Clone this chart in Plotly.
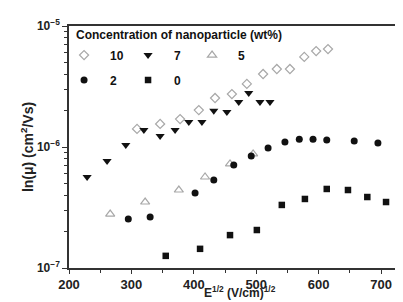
import plotly.graph_objects as go

# ---- data ----
x_10 = [309, 346, 378, 408, 434, 461, 485, 511, 533, 554, 577, 596, 615]
y_10 = [1.41e-6, 1.55e-6, 1.70e-6, 2.02e-6, 2.54e-6, 2.74e-6, 3.32e-6, 4.01e-6,
        4.41e-6, 4.41e-6, 5.55e-6, 6.21e-6, 6.45e-6]

x_7 = [229, 261, 291, 320, 346, 370, 392, 413, 432, 453, 472, 488, 506, 522]
y_7 = [5.65e-7, 7.66e-7, 1.04e-6, 1.38e-6, 1.23e-6, 1.38e-6, 1.61e-6, 1.61e-6,
       1.99e-6, 1.95e-6, 2.35e-6, 2.79e-6, 2.35e-6, 2.35e-6]

x_5 = [266, 322, 376, 418, 458, 495]
y_5 = [2.79e-7, 3.51e-7, 4.41e-7, 5.65e-7, 7.24e-7, 8.76e-7]

x_2 = [295, 330, 402, 432, 464, 492, 519, 546, 569, 591, 613, 657, 695]
y_2 = [2.54e-7, 2.64e-7, 4.17e-7, 5.33e-7, 7.10e-7, 8.43e-7, 9.82e-7, 1.10e-6,
       1.16e-6, 1.16e-6, 1.14e-6, 1.12e-6, 1.08e-6]

x_0 = [355, 410, 458, 501, 541, 578, 613, 647, 678, 708]
y_0 = [1.26e-7, 1.44e-7, 1.87e-7, 2.06e-7, 3.32e-7, 3.72e-7, 4.50e-7, 4.41e-7,
       3.86e-7, 3.51e-7]

x_ticks = [200, 300, 400, 500, 600, 700]
x_minor_ticks = [250, 350, 450, 550, 650, 750]
y_ticks = [1e-7, 1e-6, 1e-5]
y_tick_labels = ["10<sup>\u22127</sup>", "10<sup>\u22126</sup>", "10<sup>\u22125</sup>"]
y_minor_ticks = [m * 10.0 ** e for e in (-7, -6) for m in range(2, 10)]

FONT = "Arial, Liberation Sans, sans-serif"
GRAY = "#a8a8a8"
BLACK = "#111111"

fig = go.Figure()

fig.add_trace(go.Scatter(x=x_10, y=y_10, mode="markers", name="10", legend="legend",
                         marker=dict(symbol="diamond-open", size=7, color=GRAY,
                                     line=dict(width=1.2, color=GRAY))))
fig.add_trace(go.Scatter(x=x_7, y=y_7, mode="markers", name="7", legend="legend",
                         marker=dict(symbol="triangle-down", size=8, color=BLACK)))
fig.add_trace(go.Scatter(x=x_5, y=y_5, mode="markers", name="5", legend="legend",
                         marker=dict(symbol="triangle-up-open", size=8, color=GRAY,
                                     line=dict(width=1.2, color=GRAY))))
fig.add_trace(go.Scatter(x=x_2, y=y_2, mode="markers", name="2", legend="legend2",
                         marker=dict(symbol="circle", size=7, color=BLACK)))
fig.add_trace(go.Scatter(x=x_0, y=y_0, mode="markers", name="0", legend="legend2",
                         marker=dict(symbol="square", size=6.5, color=BLACK)))

legend_common = dict(orientation="h", xanchor="left", yanchor="middle",
                     x=-0.032, bgcolor="rgba(0,0,0,0)", borderwidth=0,
                     itemwidth=42, entrywidthmode="pixels", entrywidth=7,
                     font=dict(family=FONT, size=12, color="#111", weight="bold"))

fig.update_layout(
    width=403, height=302,
    margin=dict(l=61, r=0, t=18, b=42, autoexpand=False),
    paper_bgcolor="white", plot_bgcolor="white",
    font=dict(family=FONT, color="#111"),
    showlegend=True,
    legend=dict(**legend_common, y=0.880),
    legend2=dict(**legend_common, y=0.777),
    xaxis=dict(
        range=[200, 748], tickmode="array", tickvals=x_ticks, ticks="outside", ticklen=4,
        tickwidth=1.2, tickcolor="#333", showline=True, linecolor="#333", linewidth=1.5,
        mirror=True, showgrid=False, zeroline=False,
        minor=dict(tickmode="array", tickvals=x_minor_ticks, ticks="outside", ticklen=3,
                   tickwidth=1, tickcolor="#333", showgrid=False),
        tickfont=dict(family=FONT, size=13, color="#222", weight="bold"),
    ),
    yaxis=dict(
        type="log", range=[-7, -5], tickmode="array", tickvals=y_ticks,
        ticktext=y_tick_labels,
        ticks="outside", ticklen=5, tickwidth=1.2, tickcolor="#333",
        showline=True, linecolor="#333", linewidth=1.5, mirror=False,
        showgrid=False, zeroline=False,
        minor=dict(tickmode="array", tickvals=y_minor_ticks, ticks="outside", ticklen=3,
                   tickwidth=1, tickcolor="#333", showgrid=False),
        tickfont=dict(family=FONT, size=12, color="#222", weight="bold"),
        title=dict(text="ln(\u03bc) (cm<sup>2</sup>/Vs)", standoff=0,
                   font=dict(family=FONT, size=14, color="#222", weight="bold")),
    ),
    annotations=[
        dict(text="Concentration of nanoparticle (wt%)", xref="paper", yref="paper",
             x=0.0146, y=0.963, xanchor="left", yanchor="middle", showarrow=False,
             font=dict(family=FONT, size=12, color="#111", weight="bold")),
        dict(text="E<sup>1/2</sup> (V/cm)<sup>1/2</sup>", xref="paper", yref="paper",
             x=0.5, y=-0.14, xanchor="center", yanchor="bottom", showarrow=False,
             font=dict(family=FONT, size=12, color="#222", weight="bold")),
    ],
)

fig.write_html("out.html")
